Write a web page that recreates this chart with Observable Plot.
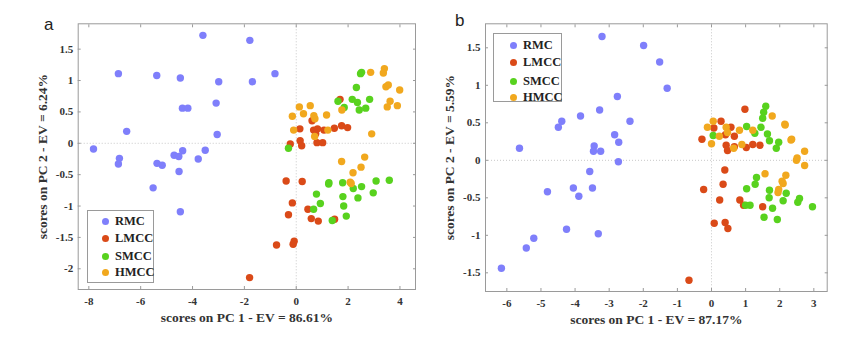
<!DOCTYPE html>
<html>
<head>
<meta charset="utf-8">
<script src="https://cdn.jsdelivr.net/npm/d3@7"></script>
<script src="https://cdn.jsdelivr.net/npm/@observablehq/plot@0.6"></script>
<style>
  html, body { margin: 0; padding: 0; background: #fff; }
  #wrap { position: relative; width: 863px; height: 340px; overflow: hidden; }
  #wrap > svg { position: absolute; top: 0; }
  .panel-letter { position: absolute; font-family: "Liberation Sans", Arial, sans-serif; font-size: 17px; color: #222; line-height: 1; }
  .legend { position: absolute; border: 1px solid #9a9a9a; background: #fff; box-sizing: border-box; }
  .legend .item { position: absolute; font-family: "Liberation Serif", "Times New Roman", serif; font-weight: bold; font-size: 12.5px; color: #222; line-height: 1; white-space: nowrap; }
  .legend .dot { position: absolute; width: 7px; height: 7px; border-radius: 50%; }
</style>
</head>
<body>
<div id="wrap"></div>
<script>
// ---------- data ----------
const groups = ["RMC", "LMCC", "SMCC", "HMCC"];
const groupColors = ["#7f7ffb", "#da4a18", "#58d21e", "#f1a81e"];

// Panel a: [PC1, PC2]
const rmcA = [[-3.60,1.72],[-1.79,1.64],[-6.86,1.11],[-5.38,1.08],[-4.47,1.04],[-2.99,0.98],[-1.69,0.98],[-0.82,1.11],[-4.39,0.56],[-4.18,0.56],[-3.09,0.64],[-6.54,0.19],[-3.05,0.14],[-7.82,-0.09],[-6.82,-0.24],[-6.86,-0.33],[-5.37,-0.32],[-5.17,-0.35],[-4.71,-0.19],[-4.53,-0.21],[-4.38,-0.12],[-3.51,-0.11],[-3.78,-0.25],[-4.52,-0.45],[-5.52,-0.71],[-4.47,-1.09]];
const lmccA = [[1.69,0.70],[0.61,0.36],[0.67,0.21],[0.82,0.23],[0.75,0.15],[1.07,0.21],[1.47,0.24],[1.75,0.28],[1.98,0.25],[0.14,0.23],[-0.23,-0.01],[0.15,0.04],[0.21,-0.04],[0.80,0.01],[1.02,0.01],[-0.39,-0.60],[0.23,-0.61],[-0.15,-0.95],[-0.30,-1.14],[0.45,-1.05],[0.58,-1.20],[0.85,-1.24],[1.48,-1.21],[-0.08,-1.56],[-0.12,-1.61],[-0.76,-1.62],[-1.80,-2.14]];
const smccA = [[2.48,1.11],[2.52,1.13],[2.32,0.89],[1.61,0.67],[1.85,0.57],[2.16,0.70],[2.36,0.65],[2.43,0.53],[2.68,0.56],[2.83,0.70],[-0.30,-0.08],[1.26,-0.63],[1.25,-0.65],[1.79,-0.63],[2.20,-0.72],[2.52,-0.69],[3.08,-0.60],[3.59,-0.59],[0.78,-0.81],[0.93,-0.96],[0.67,-1.05],[1.80,-0.85],[1.83,-1.00],[2.38,-0.87],[2.97,-0.79],[1.93,-1.16],[1.39,-1.23]];
const hmccA = [[3.40,1.19],[3.36,1.12],[2.87,1.13],[3.46,0.90],[3.55,0.93],[3.99,0.85],[3.62,0.67],[3.51,0.58],[3.90,0.60],[2.91,0.15],[0.12,0.58],[0.54,0.60],[0.28,0.47],[-0.15,0.43],[0.68,0.44],[0.72,0.39],[1.17,0.45],[1.76,0.53],[-0.10,0.21],[0.71,0.11],[1.22,0.21],[1.75,-0.29],[2.64,-0.22],[2.50,-0.38],[2.19,-0.47],[2.08,-0.62],[2.12,-0.64]];

// Panel b: [PC1, PC2]
const rmcB = [[-3.21,1.65],[-1.99,1.53],[-1.52,1.31],[-1.30,0.96],[-2.76,0.85],[-3.28,0.67],[-2.39,0.52],[-4.39,0.52],[-4.49,0.44],[-3.84,0.59],[-2.84,0.34],[-2.72,0.24],[-5.63,0.16],[-3.44,0.19],[-3.46,0.12],[-3.25,0.12],[-2.73,-0.02],[-3.57,-0.15],[-4.05,-0.37],[-3.89,-0.48],[-3.49,-0.37],[-4.81,-0.42],[-4.25,-0.92],[-3.32,-0.98],[-5.21,-1.04],[-5.43,-1.17],[-6.16,-1.44]];
const lmccB = [[0.98,0.68],[0.28,0.52],[0.07,0.43],[-0.28,0.28],[0.57,0.44],[0.41,0.34],[0.67,0.32],[0.43,0.20],[0.47,0.13],[0.67,0.18],[1.02,0.17],[1.21,0.21],[1.42,0.20],[0.39,-0.13],[0.34,-0.32],[-0.23,-0.39],[0.24,-0.53],[0.83,-0.53],[0.94,-0.60],[1.50,-0.62],[0.08,-0.84],[0.40,-0.83],[0.48,-0.91],[-0.66,-1.60]];
const smccB = [[1.59,0.72],[1.53,0.64],[1.50,0.56],[1.45,0.44],[1.03,0.45],[1.27,0.36],[1.64,0.35],[1.70,0.26],[1.97,0.24],[1.90,0.16],[0.05,0.33],[1.32,-0.23],[1.28,-0.32],[1.03,-0.38],[1.70,-0.40],[2.19,-0.44],[1.69,-0.50],[2.10,-0.54],[2.58,-0.51],[2.53,-0.56],[2.96,-0.62],[1.00,-0.60],[1.13,-0.60],[1.79,-0.64],[1.54,-0.76],[1.93,-0.79]];
const hmccB = [[1.78,0.59],[2.15,0.48],[2.16,0.47],[2.35,0.28],[2.33,0.27],[2.73,0.12],[2.51,0.03],[2.49,0.00],[2.73,-0.07],[-0.12,0.44],[0.05,0.52],[0.43,0.44],[0.47,0.37],[0.23,0.32],[0.82,0.40],[1.21,0.40],[0.00,0.22],[0.65,0.16],[0.89,0.21],[1.57,-0.18],[2.18,-0.20],[2.07,-0.28],[2.10,-0.31],[1.97,-0.39],[1.95,-0.43]];

// Ticks and labels
const xTicksA = [-8, -6, -4, -2, 0, 2, 4];
const yTicksA = [-2, -1.5, -1, -0.5, 0, 0.5, 1, 1.5];
const xTicksB = [-6, -5, -4, -3, -2, -1, 0, 1, 2, 3];
const yTicksB = [-1.5, -1, -0.5, 0, 0.5, 1, 1.5];
const xLabelA = "scores on PC 1 - EV = 86.61%";
const yLabelA = "scores on PC 2 - EV = 6.24%";
const xLabelB = "scores on PC 1 - EV = 87.17%";
const yLabelB = "scores on PC 2 - EV = 5.59%";

// ---------- build ----------
function toRows(seriesList) {
  const rows = [];
  seriesList.forEach((s, i) => s.forEach(([x, y]) => rows.push({group: groups[i], x, y})));
  return rows;
}
const fmt = d => String(d);
const FONT = "'Liberation Serif', 'Times New Roman', serif";

function panel({rows, xDomain, yDomain, xTicks, yTicks, xLabel, yLabel, width, margins}) {
  return Plot.plot({
    width, height: 340,
    marginLeft: margins[0], marginRight: margins[1], marginTop: margins[2], marginBottom: margins[3],
    style: {fontFamily: FONT, fontWeight: "bold", fontSize: "11px", color: "#333", background: "transparent"},
    x: {domain: xDomain},
    y: {domain: yDomain},
    color: {domain: groups, range: groupColors},
    marks: [
      Plot.ruleX([0], {stroke: "#c8c8c8", strokeDasharray: "1,2"}),
      Plot.ruleY([0], {stroke: "#c8c8c8", strokeDasharray: "1,2"}),
      Plot.frame({stroke: "#9a9a9a"}),
      // inward tick marks on all four sides
      Plot.axisX({ticks: xTicks, anchor: "bottom", tickSize: -3, tickFormat: () => "", label: null, stroke: "#9a9a9a"}),
      Plot.axisX({ticks: xTicks, anchor: "top", tickSize: -3, tickFormat: () => "", label: null, stroke: "#9a9a9a"}),
      Plot.axisY({ticks: yTicks, anchor: "left", tickSize: -3, tickFormat: () => "", label: null, stroke: "#9a9a9a"}),
      Plot.axisY({ticks: yTicks, anchor: "right", tickSize: -3, tickFormat: () => "", label: null, stroke: "#9a9a9a"}),
      // tick labels and titles
      Plot.axisX({ticks: xTicks, anchor: "bottom", tickSize: 0, tickPadding: 8, tickFormat: fmt, fill: "#333",
        label: xLabel, labelAnchor: "center", labelOffset: 32, labelArrow: "none"}),
      Plot.axisY({ticks: yTicks, anchor: "left", tickSize: 0, tickPadding: 5, tickFormat: fmt, fill: "#333",
        label: yLabel, labelAnchor: "center", labelOffset: 41, labelArrow: "none"}),
      Plot.dot(rows, {x: "x", y: "y", fill: "group", r: 3.7, stroke: null})
    ]
  });
}

const wrap = document.getElementById("wrap");

const svgA = panel({
  rows: toRows([rmcA, lmccA, smccA, hmccA]),
  xDomain: [-8.41, 4.60], yDomain: [-2.33, 1.904],
  xTicks: xTicksA, yTicks: yTicksA, xLabel: xLabelA, yLabel: yLabelA,
  width: 430, margins: [77.7, 15, 23.3, 51]
});
svgA.style.left = "0px";
wrap.appendChild(svgA);

const svgB = panel({
  rows: toRows([rmcB, lmccB, smccB, hmccB]),
  xDomain: [-6.626, 3.392], yDomain: [-1.749, 1.82],
  xTicks: xTicksB, yTicks: yTicksB, xLabel: xLabelB, yLabel: yLabelB,
  width: 433, margins: [55, 36.3, 23.3, 49]
});
svgB.style.left = "430px";
wrap.appendChild(svgB);

// axis title font size
const titles = new Set([xLabelA, yLabelA, xLabelB, yLabelB]);
wrap.querySelectorAll("svg text").forEach(n => {
  if (titles.has(n.textContent.trim())) n.setAttribute("font-size", "13.5");
});

// panel letters
[["a", 44, 16], ["b", 455, 12]].forEach(([t, l, top]) => {
  const d = document.createElement("div");
  d.className = "panel-letter"; d.textContent = t;
  d.style.left = l + "px"; d.style.top = top + "px";
  wrap.appendChild(d);
});

// legends
function legend(left, top, w, h, dotX, textX, rowY) {
  const box = document.createElement("div");
  box.className = "legend";
  Object.assign(box.style, {left: left + "px", top: top + "px", width: w + "px", height: h + "px"});
  groups.forEach((g, i) => {
    const dot = document.createElement("div");
    dot.className = "dot";
    dot.style.background = groupColors[i];
    dot.style.left = (dotX - 3.5) + "px";
    dot.style.top = (rowY[i] - 3.5) + "px";
    box.appendChild(dot);
    const t = document.createElement("div");
    t.className = "item"; t.textContent = g;
    t.style.left = textX + "px";
    t.style.top = (rowY[i] - 6.5) + "px";
    box.appendChild(t);
  });
  wrap.appendChild(box);
}
legend(87, 210, 67, 73, 104 - 87, 114 - 87, [10, 27.7, 45, 61.7]);
legend(493, 33, 69, 69, 512 - 493, 522 - 493, [11, 28.7, 47, 63]);
</script>
</body>
</html>
